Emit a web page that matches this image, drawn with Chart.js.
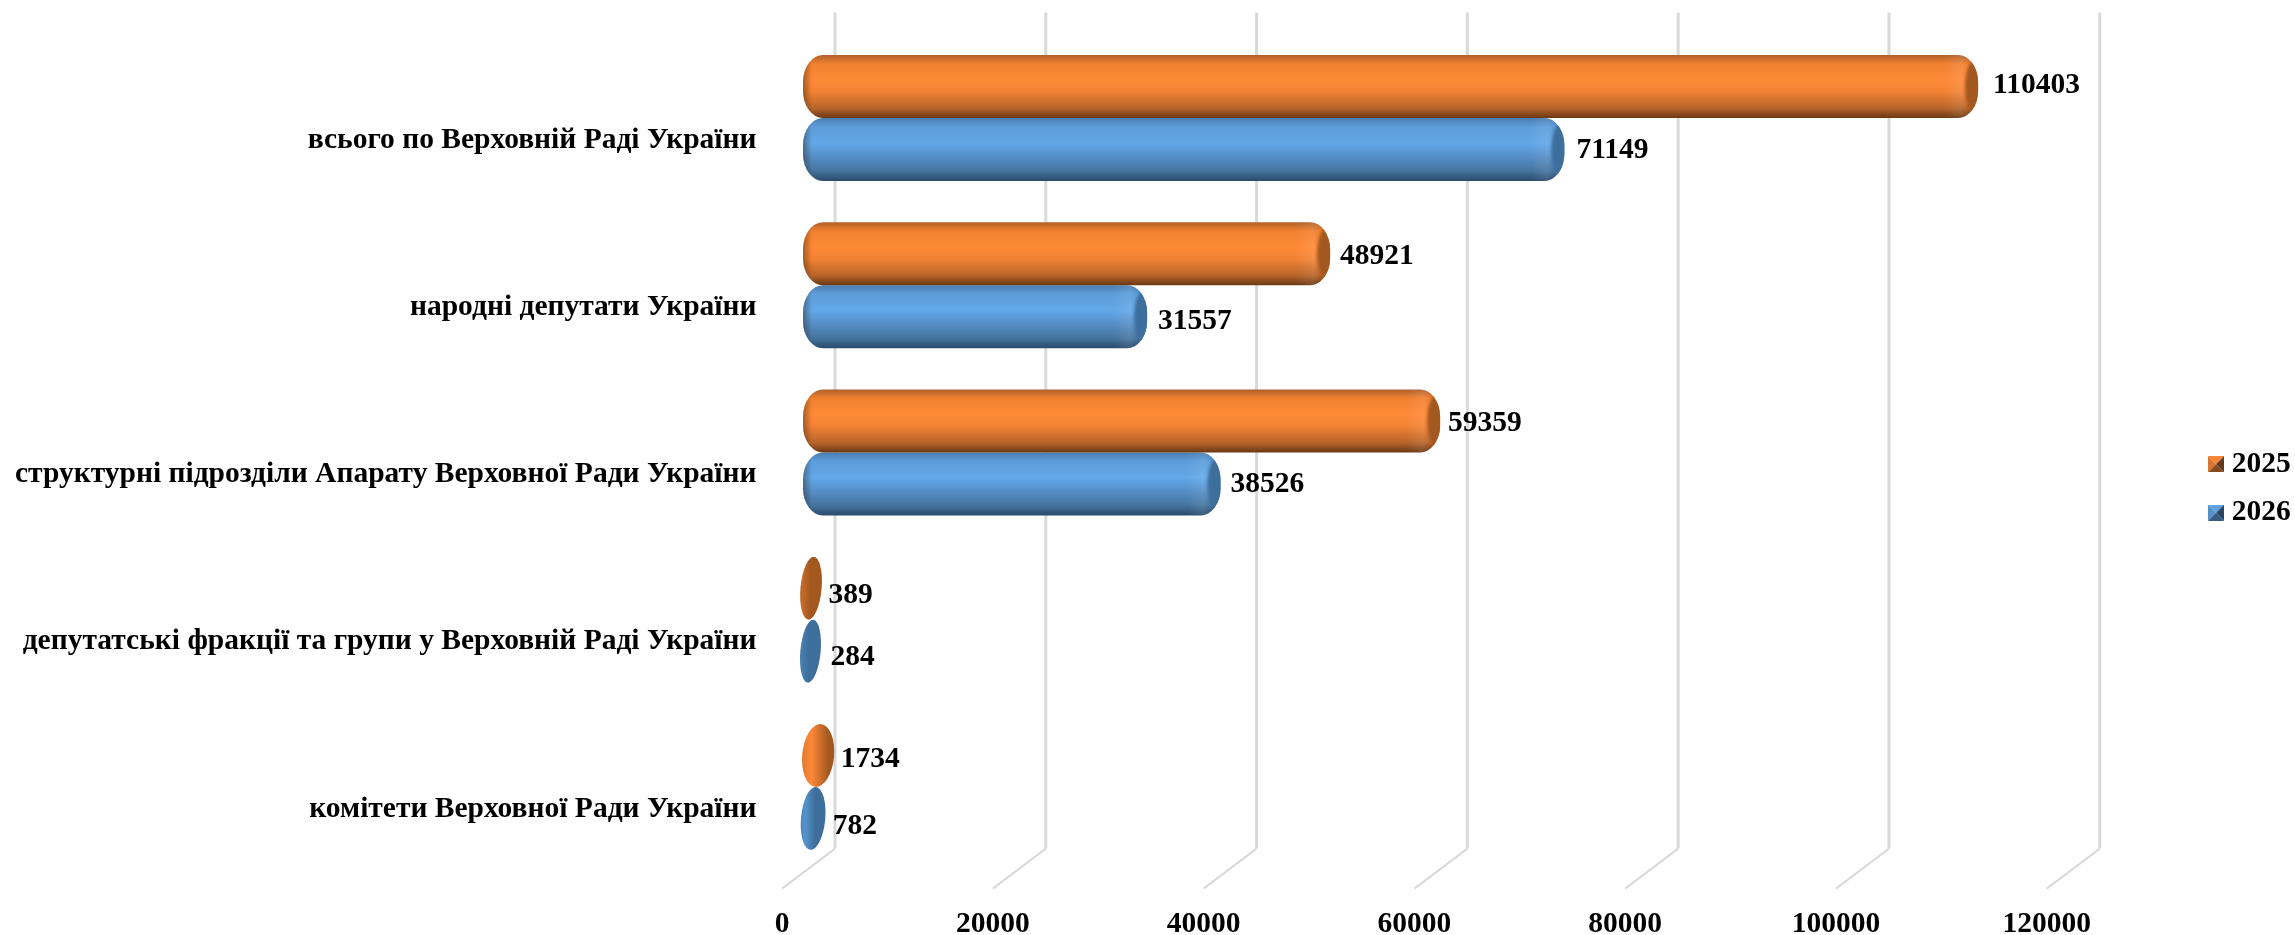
<!DOCTYPE html>
<html lang="uk">
<head>
<meta charset="utf-8">
<title>Chart</title>
<script src="https://cdn.jsdelivr.net/npm/chart.js@4"></script>
<style>
  html, body { margin: 0; padding: 0; background: #fff; overflow: hidden; }
  canvas { display: block; }
</style>
</head>
<body>
<canvas id="bars-chart" width="2295" height="935"></canvas>
<script>
var categories = [
    'всього по Верховній Раді України',
    'народні депутати України',
    'структурні підрозділи Апарату Верховної Ради України',
    'депутатські фракції та групи у Верховній Раді України',
    'комітети Верховної Ради України'
];
var values2025 = [110403, 48921, 59359, 389, 1734];
var values2026 = [71149, 31557, 38526, 284, 782];
var xTicksMax = 120000;
var xTicksStep = 20000;

// value label nudges in px, the original labels do not sit on one line
var labelNudge2025 = [[5, -1], [0, 3], [-2, 2], [0, 7], [-2, 4]];
var labelNudge2026 = [[2, 0.5], [1, 5], [0, 0.5], [3, 6], [0, 7.5]];

var orange = { base: '#FF8A38', bright: [255, 138, 56], face: [163, 88, 32], stops: ['#B0602A', '#F08030', '#FF8A38', '#F28233', '#B9652A', '#6A3814'] };
var blue = { base: '#62A8E8', bright: [98, 168, 232], face: [62, 110, 155], stops: ['#4A7DB0', '#5C9DDA', '#62A8E8', '#5892CC', '#44749F', '#2A4A6A'] };

var depthX = 53, depthY = 40;
var serif = "'Liberation Serif', 'Times New Roman', serif";
var fontSize = 29.5;

function mix(a, b, t) {
    return 'rgb(' + a.map(function(v, i) { return Math.round(v + (b[i] - v) * t); }).join(',') + ')';
}

function legendMarker(c) {
    var cv = document.createElement('canvas');
    cv.width = 16; cv.height = 16;
    var g = cv.getContext('2d');
    var tri = [
        [[0, 0], [16, 0], [8, 8], mix(c.face, c.bright, 0.9)],
        [[0, 0], [0, 16], [8, 8], mix(c.face, c.bright, 0.6)],
        [[16, 0], [16, 16], [8, 8], mix(c.face, [20, 20, 30], 0.45)],
        [[0, 16], [16, 16], [8, 8], mix(c.face, [20, 20, 30], 0.2)]
    ];
    tri.forEach(function(t) {
        g.fillStyle = t[3];
        g.beginPath();
        g.moveTo(t[0][0], t[0][1]); g.lineTo(t[1][0], t[1][1]); g.lineTo(t[2][0], t[2][1]);
        g.closePath();
        g.fill();
    });
    return cv;
}

function roundedBody(ctx, l, r, t, b) {
    var cx = 20, cy = 27;
    ctx.beginPath();
    ctx.moveTo(l + cx, t);
    ctx.lineTo(r - cx, t);
    ctx.ellipse(r - cx, t + cy, cx, cy, 0, -Math.PI / 2, 0);
    ctx.lineTo(r, b - cy);
    ctx.ellipse(r - cx, b - cy, cx, cy, 0, 0, Math.PI / 2);
    ctx.lineTo(l + cx, b);
    ctx.ellipse(l + cx, b - cy, cx, cy, 0, Math.PI / 2, Math.PI);
    ctx.lineTo(l, t + cy);
    ctx.ellipse(l + cx, t + cy, cx, cy, 0, Math.PI, Math.PI * 1.5);
    ctx.closePath();
}

function drawLongBar(ctx, el, c) {
    var l = el.base - 5.5, r = el.x + 6;
    var t = el.y - el.height / 2, b = el.y + el.height / 2;
    var g = ctx.createLinearGradient(0, t, 0, b);
    [0, 0.14, 0.4, 0.58, 0.84, 1].forEach(function(p, i) { g.addColorStop(p, c.stops[i]); });

    ctx.save();
    roundedBody(ctx, l, r, t, b);
    ctx.fillStyle = g;
    ctx.fill();
    ctx.clip();

    // left edge is a bit darker
    var edge = ctx.createLinearGradient(l, 0, l + 9, 0);
    edge.addColorStop(0, 'rgba(40,25,15,0.4)');
    edge.addColorStop(1, 'rgba(40,25,15,0)');
    ctx.fillStyle = edge;
    ctx.fillRect(l, t, 9, b - t);

    // faint lighter band before the end
    var band = ctx.createLinearGradient(r - 34, 0, r - 10, 0);
    band.addColorStop(0, 'rgba(255,255,255,0)');
    band.addColorStop(0.7, 'rgba(255,255,255,0.09)');
    band.addColorStop(1, 'rgba(255,255,255,0)');
    ctx.fillStyle = band;
    ctx.fillRect(r - 34, t, 24, b - t);

    // end face, soft edge
    ctx.filter = 'blur(1.5px)';
    ctx.beginPath();
    ctx.ellipse(r - 2, el.y, 11, el.height * 0.44, 0, 0, Math.PI * 2);
    ctx.fillStyle = mix(c.face, c.face, 0);
    ctx.fill();
    ctx.restore();
}

function drawShortBar(ctx, el, c) {
    var len = el.x - el.base;
    var rx = 9 + len * 0.38, ry = el.height / 2;
    var cx = el.base + len / 2 + 0.5;
    var f = len / (2 * rx);
    var g = ctx.createLinearGradient(cx - rx, 0, cx + rx, 0);
    g.addColorStop(0, mix(c.face, c.bright, Math.min(1, f * 1.2)));
    g.addColorStop(f * 0.5, mix(c.face, c.bright, Math.min(1, f * 1.9)));
    g.addColorStop(Math.min(1, f + 0.25), mix(c.face, c.face, 0));
    g.addColorStop(1, mix(c.face, c.face, 0));
    ctx.beginPath();
    ctx.ellipse(cx, el.y, rx, ry, 0.09, 0, Math.PI * 2);
    ctx.fillStyle = g;
    ctx.fill();
}

var wallPlugin = {
    id: 'wall',
    beforeDatasetsDraw: function(chart) {
        var ctx = chart.ctx, area = chart.chartArea, x = chart.scales.x;
        ctx.save();
        x.ticks.forEach(function(t) {
            var px = x.getPixelForValue(t.value) + depthX / 2;
            var top = area.top - depthY / 2 - 2, bottom = area.bottom - depthY / 2 - 2;
            ctx.strokeStyle = '#D9D9D9';
            ctx.lineWidth = 3;
            ctx.beginPath();
            ctx.moveTo(px, top);
            ctx.lineTo(px, bottom);
            ctx.stroke();
            ctx.lineWidth = 2;
            ctx.beginPath();
            ctx.moveTo(px, bottom);
            ctx.lineTo(px - depthX, bottom + depthY);
            ctx.stroke();
        });
        ctx.restore();
    },
    beforeDatasetDraw: function() {
        // bars are painted as cylinders below
        return false;
    },
    afterDatasetsDraw: function(chart) {
        var ctx = chart.ctx;
        var looks = [orange, blue];
        var nudges = [labelNudge2025, labelNudge2026];
        [1, 0].forEach(function(di) {
            chart.getDatasetMeta(di).data.forEach(function(el) {
                if (el.x - el.base < 40) drawShortBar(ctx, el, looks[di]);
                else drawLongBar(ctx, el, looks[di]);
            });
        });
        ctx.save();
        ctx.fillStyle = '#000';
        ctx.font = 'bold ' + fontSize + 'px ' + serif;
        ctx.textAlign = 'left';
        ctx.textBaseline = 'middle';
        [0, 1].forEach(function(di) {
            chart.getDatasetMeta(di).data.forEach(function(el, i) {
                var n = nudges[di][i];
                ctx.fillText(String(chart.data.datasets[di].data[i]), el.x + 16 + n[0], el.y + n[1]);
            });
        });
        ctx.restore();
    },
    afterLayout: function(chart) {
        // legend sits below the middle, as in the original
        var lg = chart.legend;
        var w = lg.width, h = lg.height;
        lg.left = 2196; lg.right = lg.left + w;
        lg.top = 430.5; lg.bottom = lg.top + h;
    }
};

var barsCtx = document.getElementById('bars-chart').getContext('2d');
new Chart(barsCtx, {
    type: 'bar',
    plugins: [wallPlugin],
    data: {
        labels: categories,
        datasets: [
            { label: '2025', data: values2025, backgroundColor: orange.base },
            { label: '2026', data: values2026, backgroundColor: blue.base }
        ]
    },
    options: {
        indexAxis: 'y',
        responsive: false,
        devicePixelRatio: 1,
        animation: false,
        barPercentage: 1,
        categoryPercentage: 0.7534,
        layout: { padding: { top: 34.4, right: 117, left: 0, bottom: 0 } },
        plugins: {
            tooltip: { enabled: false },
            legend: {
                position: 'right',
                align: 'start',
                labels: {
                    color: '#000',
                    font: { family: serif, size: fontSize, weight: 'bold' },
                    usePointStyle: true,
                    boxWidth: 2,
                    padding: 19,
                    generateLabels: function(chart) {
                        var items = Chart.defaults.plugins.legend.labels.generateLabels(chart);
                        items[0].pointStyle = legendMarker(orange);
                        items[1].pointStyle = legendMarker(blue);
                        return items;
                    }
                }
            }
        },
        scales: {
            x: {
                type: 'linear',
                min: 0,
                max: xTicksMax,
                grid: { display: false },
                border: { display: false },
                afterFit: function(scale) {
                    scale.height = 64.4;
                    scale.paddingLeft = 0;
                    scale.paddingRight = 0;
                },
                ticks: {
                    stepSize: xTicksStep,
                    autoSkip: false,
                    maxRotation: 0,
                    padding: 28,
                    labelOffset: -depthX / 2,
                    color: '#000',
                    font: { family: serif, size: fontSize, weight: 'bold' },
                    callback: function(value) { return String(value); }
                }
            },
            y: {
                type: 'category',
                grid: { display: false },
                border: { display: false },
                afterFit: function(scale) {
                    scale.width = 808.5;
                    scale.paddingTop = 0;
                    scale.paddingBottom = 0;
                },
                ticks: {
                    padding: 44,
                    labelOffset: depthY / 2 + 2,
                    autoSkip: false,
                    color: '#000',
                    font: { family: serif, size: fontSize, weight: 'bold' }
                }
            }
        }
    }
});
</script>
</body>
</html>
